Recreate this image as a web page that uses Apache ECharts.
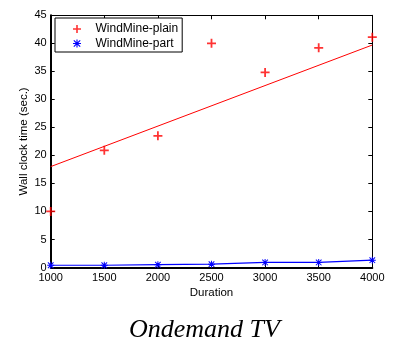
<!DOCTYPE html>
<html><head><meta charset="utf-8">
<script src="https://cdn.jsdelivr.net/npm/echarts@6/dist/echarts.min.js"></script>
<style>html,body{margin:0;padding:0;background:#fff}#c{width:393px;height:345px}</style>
</head><body><div id="c"></div>
<script>
var durations = [1000, 1500, 2000, 2500, 3000, 3500, 4000];
var plainTimes = [10.0, 20.9, 23.5, 40.0, 34.8, 39.2, 41.1];
var partTimes = [0.4, 0.4, 0.5, 0.6, 0.9, 0.9, 1.3];
var fitX = [1000, 4000];
var plainFit = [18.0, 39.7];
var xTicks = {min: 1000, max: 4000, step: 500};
var yTicks = {min: 0, max: 45, step: 5};

var plusPath = 'path://M4,0H6V4H10V6H6V10H4V6H0V4H4Z';
var starPath = 'path://M4.3,0H5.7V4.3H10V5.7H5.7V10H4.3V5.7H0V4.3H4.3Z M0.5,1.5L1.5,0.5L9.5,8.5L8.5,9.5Z M8.5,0.5L9.5,1.5L1.5,9.5L0.5,8.5Z';

var font = 'Liberation Sans, Arial, sans-serif';
var chart = echarts.init(document.getElementById('c'), null, {renderer: 'canvas'});
function pairs(xs, ys){ return xs.map(function(x,i){ return [x, ys[i]]; }); }
function plain(v){ return String(v); }
var axisBase = {
  type: 'value', splitLine: {show: false},
  axisTick: {show: true, inside: true, length: 4, lineStyle: {color: '#000', width: 1}},
  axisLabel: {color: '#000', fontFamily: font, fontSize: 11, formatter: plain},
  nameTextStyle: {color: '#000', fontFamily: font, fontSize: 11.5}
};
chart.setOption({
  animation: false,
  grid: {left: 50.7, right: 20.7, top: 15.3, bottom: 77.5, containLabel: false},
  title: {text: 'Ondemand TV', left: 124, top: 312,
    textStyle: {fontFamily: 'Liberation Serif, Times New Roman, serif', fontStyle: 'italic', fontWeight: 'normal', fontSize: 26, color: '#000'}},
  legend: {
    orient: 'vertical', left: 55, top: 18,
    borderColor: '#000', borderWidth: 1, backgroundColor: '#fff',
    padding: [5, 4, 2.5, 18], itemWidth: 27, itemHeight: 8, itemGap: 2.5,
    textStyle: {fontFamily: font, fontSize: 12, color: '#000'},
    data: [{name: 'WindMine-plain', icon: plusPath}, {name: 'WindMine-part', icon: starPath}]
  },
  xAxis: [
    Object.assign({}, axisBase, {min: xTicks.min, max: xTicks.max, interval: xTicks.step, position: 'bottom',
      name: 'Duration', nameLocation: 'middle', nameGap: 19, nameMoveOverlap: false,
      axisLine: {show: true, onZero: false, lineStyle: {color: '#000', width: 2}},
      axisLabel: {color: '#000', fontFamily: font, fontSize: 11, margin: 5, formatter: plain}}),
    Object.assign({}, axisBase, {min: xTicks.min, max: xTicks.max, interval: xTicks.step, position: 'top',
      axisLine: {show: true, onZero: false, lineStyle: {color: '#000', width: 1}},
      axisLabel: {show: false}})
  ],
  yAxis: [
    Object.assign({}, axisBase, {min: yTicks.min, max: yTicks.max, interval: yTicks.step, position: 'left',
      name: 'Wall clock time (sec.)', nameLocation: 'middle', nameGap: 21, nameMoveOverlap: false,
      axisLine: {show: true, onZero: false, lineStyle: {color: '#000', width: 2}},
      axisLabel: {color: '#000', fontFamily: font, fontSize: 11, margin: 4, formatter: plain}}),
    Object.assign({}, axisBase, {min: yTicks.min, max: yTicks.max, interval: yTicks.step, position: 'right',
      axisLine: {show: true, onZero: false, lineStyle: {color: '#000', width: 1}},
      axisLabel: {show: false}})
  ],
  series: [
    {name: 'WindMine-plain-fit', type: 'line', data: pairs(fitX, plainFit), showSymbol: false,
      lineStyle: {color: '#ff0000', width: 1}, itemStyle: {color: '#ff0000'}, silent: true, z: 2},
    {name: 'WindMine-part', type: 'line', data: pairs(durations, partTimes),
      symbol: starPath, symbolSize: 7, lineStyle: {color: '#0000ff', width: 1.2},
      itemStyle: {color: '#0000ff'}, z: 3},
    {name: 'WindMine-plain', type: 'scatter', data: pairs(durations, plainTimes),
      symbol: plusPath, symbolSize: 9, itemStyle: {color: '#ff0000'}, z: 4}
  ]
});
</script></body></html>
